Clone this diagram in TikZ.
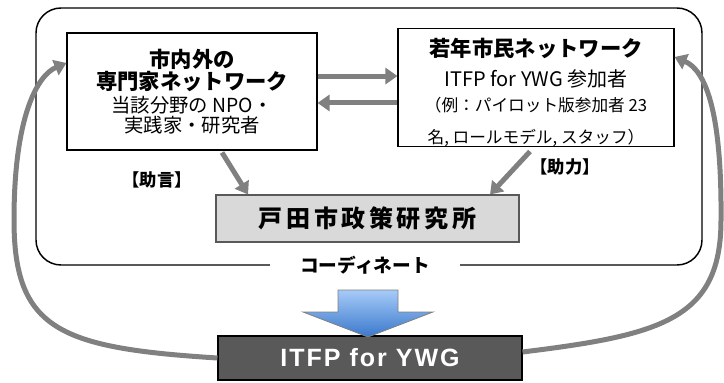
\documentclass[tikz,border=0pt]{standalone}
\usepackage{fontspec}
\setmainfont{Noto Sans CJK JP}
\newfontfamily\latinbold{Liberation Sans}[LetterSpace=8]
\usetikzlibrary{arrows.meta}
\definecolor{arrowgray}{HTML}{808080}
\definecolor{boxgray}{HTML}{D9D9D9}
\definecolor{darkbox}{HTML}{595959}
\definecolor{bluetop}{HTML}{A6CBF8}
\definecolor{bluebottom}{HTML}{3A78CC}
\newcommand\nettitle{\bfseries\fontsize{16}{15.5}\selectfont}
\newcommand\netsub[1]{\fontsize{#1}{17.25}\selectfont}
\begin{document}
\begin{tikzpicture}[x=0.75pt, y=-0.75pt,
    netbox/.style={draw, line width=0.8pt, align=center, inner sep=0pt},
    grayarrow/.style={draw=arrowgray, line width=3.75pt, -{Triangle[length=9pt,width=12pt]}}]
  \useasboundingbox (0,0) rectangle (724,382);
  % outer frame
  \draw[line width=1.1pt, rounded corners=18.75pt] (36,8) rectangle (702,265);
  \node[fill=white, minimum width=142.5pt, minimum height=30pt, font=\bfseries\fontsize{14}{16}\selectfont] (coord) at (365,265) {コーディネート};
  % boxes
  \node[netbox, minimum width=187.5pt, minimum height=87.75pt] (expert) at (192,91.5)
    {{\nettitle 市内外の}\\{\nettitle 専門家ネットワーク}\\[3pt]{\netsub{14.5}当該分野の NPO・}\\{\netsub{14.5}実践家・研究者}};
  \node[netbox, minimum width=207pt, minimum height=87.75pt] (youth) at (536,87.5)
    {{\nettitle\rule{0pt}{21.5pt}若年市民ネットワーク}\\[7pt]{\netsub{15}ITFP for YWG 参加者}\\[7pt]{\netsub{12.5}（例：パイロット版参加者 23}\\[12pt]{\netsub{12.5}名, ロールモデル, スタッフ）}};
  \node[netbox, draw=darkbox, fill=boxgray, minimum width=227.25pt, minimum height=35.25pt,
    font=\bfseries\fontsize{18}{20}\selectfont\addfontfeatures{LetterSpace=15}] (institute) at (367.5,218.5) {戸田市政策研究所};
  \node[netbox, fill=darkbox, text=white, minimum width=228pt, minimum height=33pt,
    font=\latinbold\bfseries\fontsize{18.75}{20}\selectfont] (itfp) at (370,358) {ITFP for YWG};
  % labels
  \node[font=\bfseries\fontsize{13}{15}\selectfont] (advice) at (157,180) {【助言】};
  \node[font=\bfseries\fontsize{13}{15}\selectfont] (support) at (565,167) {【助力】};
  % arrows
  \draw[grayarrow] ([yshift=11.6pt]expert.east) -- ([yshift=11.6pt]expert.east -| youth.west);
  \draw[grayarrow] ([yshift=-11.6pt]youth.west) -- ([yshift=-11.6pt]youth.west -| expert.east);
  \draw[grayarrow] ([xshift=22.5pt,yshift=-1.5pt]expert.south) -- ([xshift=-89.6pt]institute.north);
  \draw[grayarrow] ([xshift=-4.5pt,yshift=-3pt]youth.south) -- ([xshift=91.9pt]institute.north);
  \shadedraw[top color=bluetop, bottom color=bluebottom, draw=arrowgray, line width=0.6pt]
    (338,290) -- (398,290) -- (398,312) -- (433,312) -- (368,337) -- (303,312) -- (338,312) -- cycle;
  \draw[grayarrow] (itfp.west) .. controls (60,348) and (14,330) .. (14,220)
    .. controls (14,115) and (38,75) .. ([yshift=21.4pt]expert.west);
  \draw[grayarrow] ([yshift=4.5pt]itfp.east) .. controls (660,335) and (721,320) .. (721,220)
    .. controls (722,110) and (705,70) .. ([yshift=22.9pt]youth.east);
\end{tikzpicture}
\end{document}
